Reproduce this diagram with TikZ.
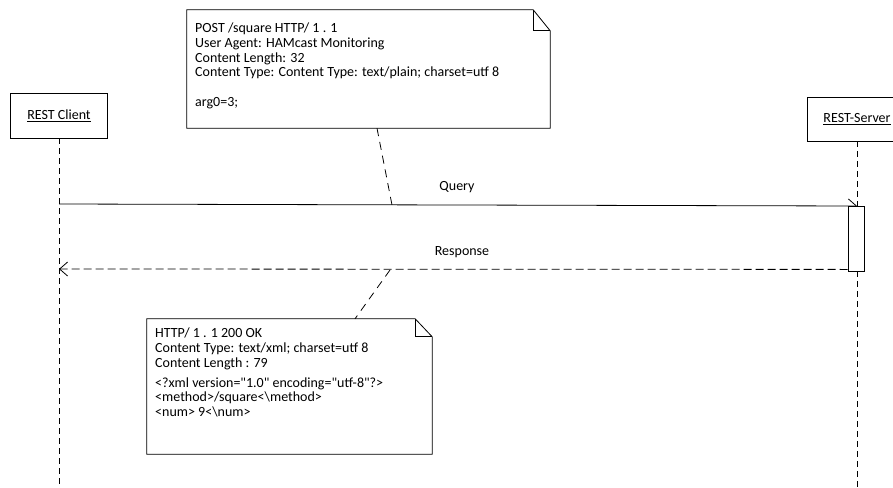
\documentclass[tikz,border=0pt]{standalone}
\usepackage{fontspec}
\setmainfont{Carlito}[Ligatures=TeXOff]
\usetikzlibrary{arrows.meta}
\begin{document}
\begin{tikzpicture}[x=1pt,y=-1pt,
  every node/.style={font=\fontsize{14}{14.8}\selectfont},
  head/.style={draw, fill=white, line width=0.8pt, inner sep=0pt},
  life/.style={line width=0.8pt, dash pattern=on 6pt off 4pt},
  msg/.style={line width=0.8pt, -{Straight Barb[length=8pt,width=14pt]}},
  reply/.style={msg, dash pattern=on 8pt off 4pt},
  notebox/.style={inner sep=0pt},
  noteline/.style={line width=0.8pt},
  noteshade/.style={fill=gray!55},
  notetext/.style={anchor=north west, align=left, inner sep=0pt},
  link/.style={line width=0.8pt, dash pattern=on 8pt off 6pt},
  act/.style={draw, fill=white, line width=0.8pt, inner sep=0pt,
              minimum width=16pt, minimum height=65pt}
]
\clip (0,0) rectangle (893,487);

% participants
\node[head, minimum width=97pt, minimum height=45pt] (client) at (59,115.5) {\underline{REST Client}};
\node[head, minimum width=100pt, minimum height=44pt] (server) at (857,119) {\underline{REST-Server}};
\coordinate (clientEnd) at (59,487);
\coordinate (serverEnd) at (857,487);
\draw[life] (client.south) -- (clientEnd);
\draw[life] (server.south) -- (serverEnd);

% query message
\coordinate (qs) at (59,204);
\coordinate (qe) at (857,206);
\draw[msg] (qs) -- (qe);
\node[act] (act) at (856,238.5) {};
\node (qlabel) at (457,187) {Query};

% response message
\coordinate (re) at (59,269);
\draw[reply] ([yshift=2pt]act.south west) -- (re);
\node (rlabel) at (462,252) {Response};

% request note
\node[notebox, minimum width=363pt, minimum height=118pt] (req) at (368.5,69) {};
\fill[noteshade, shift={(1.5,1.5)}] (req.north west) -- ([xshift=-17pt]req.north east)
  -- ([yshift=-21pt]req.north east) -- (req.south east) -- (req.south west) -- cycle;
\draw[noteline, fill=white] (req.north west) -- ([xshift=-17pt]req.north east)
  -- ([yshift=-21pt]req.north east) -- (req.south east) -- (req.south west) -- cycle;
\draw[noteline] ([xshift=-17pt]req.north east) |- ([yshift=-21pt]req.north east);
\node[notetext] (reqtext) at (195,22.5) {POST /square HTTP/ 1 . 1\\
User Agent: HAMcast Monitoring\\
Content Length: 32\\
Content Type: Content Type: text/plain; charset=utf 8\\[14.8pt]
arg0=3;};
\coordinate (qhit) at (392,205);
\draw[link] ([xshift=8.5pt]req.south) -- (qhit);

% response note
\node[notebox, minimum width=285pt, minimum height=135pt] (resp) at (289.5,386.5) {};
\fill[noteshade, shift={(1.5,1.5)}] (resp.north west) -- ([xshift=-17pt]resp.north east)
  -- ([yshift=-18pt]resp.north east) -- (resp.south east) -- (resp.south west) -- cycle;
\draw[noteline, fill=white] (resp.north west) -- ([xshift=-17pt]resp.north east)
  -- ([yshift=-18pt]resp.north east) -- (resp.south east) -- (resp.south west) -- cycle;
\draw[noteline] ([xshift=-17pt]resp.north east) |- ([yshift=-18pt]resp.north east);
\node[notetext] (resptext) at (155,327.5) {HTTP/ 1 . 1 200 OK\\
Content Type: text/xml; charset=utf 8\\
Content Length : 79\\[5.2pt]
<?xml version="1.0" encoding="utf-8"?>\\
<method>/square<\textbackslash method>\\
<num> 9<\textbackslash num>};
\coordinate (rhit) at (390,270);
\draw[link] (rhit) -- ([xshift=65.5pt]resp.north);
\end{tikzpicture}
\end{document}
